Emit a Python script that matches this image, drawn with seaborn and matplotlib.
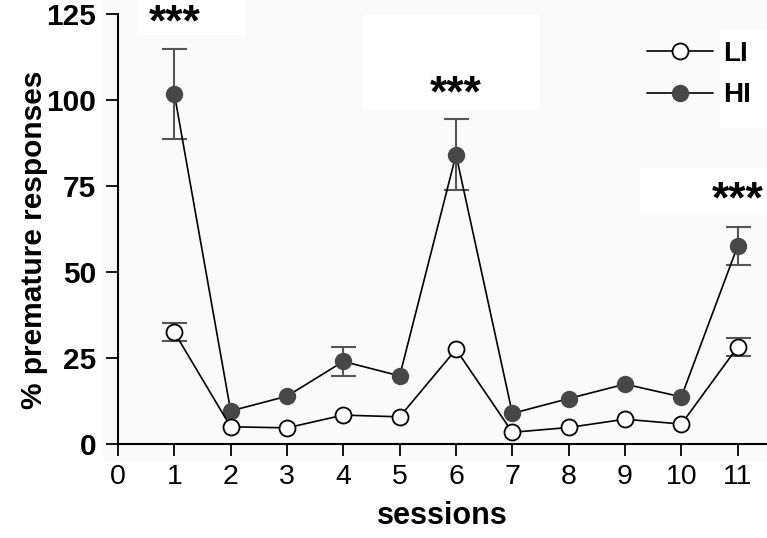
import matplotlib
matplotlib.use("Agg")
import matplotlib.pyplot as plt
import seaborn as sns
import pandas as pd
from matplotlib.patches import Rectangle

sessions = [1, 2, 3, 4, 5, 6, 7, 8, 9, 10, 11]
li_mean = [32.5, 5.0, 4.7, 8.4, 7.9, 27.5, 3.4, 4.8, 7.2, 5.8, 28.2]
li_sem = [2.6, 0, 0, 0, 0, 0, 0, 0, 0, 0, 2.7]
hi_mean = [101.8, 9.6, 13.9, 24.0, 19.8, 84.1, 8.9, 13.2, 17.4, 13.7, 57.6]
hi_sem = [13.0, 0, 0, 4.1, 0, 10.3, 0, 0, 0, 0, 5.5]
xticks = list(range(0, 12))
yticks = [0, 25, 50, 75, 100, 125]
star_sessions = [1, 6, 11]
star_y = [124, 103.4, 72.6]

sns.set_theme(style="ticks")
plt.rcParams['font.family'] = ['Liberation Sans', 'DejaVu Sans']
plt.rcParams['text.color'] = 'black'
plt.rcParams['axes.labelcolor'] = 'black'
plt.rcParams['xtick.color'] = 'black'
plt.rcParams['ytick.color'] = 'black'

df = pd.DataFrame({
    "sessions": sessions * 2,
    "value": li_mean + hi_mean,
    "group": ["LI"] * len(sessions) + ["HI"] * len(sessions),
})

W, H = 767, 538
fig = plt.figure(figsize=(W / 100, H / 100), dpi=100)
fig.patch.set_facecolor("white")
fig.patches.append(Rectangle((103 / W, 1 - 462 / H), 1, 462 / H,
                             transform=fig.transFigure, facecolor="#fafafa",
                             edgecolor="none", zorder=-10))
# white label boxes (pixel boxes of the reference image), drawn under the axes content
for (x0, y0, x1, y1) in [(138, 0, 245, 35), (363, 15, 540, 110),
                         (640, 168, 767, 215), (720, 30, 767, 128)]:
    fig.patches.append(Rectangle((x0 / W, 1 - y1 / H), (x1 - x0) / W, (y1 - y0) / H,
                                 transform=fig.transFigure, facecolor="white",
                                 edgecolor="none", zorder=-5))

ax = fig.add_axes([118 / W, 1 - 444 / H, (W - 118) / W, (444 - 14) / H])
ax.patch.set_visible(False)

def visible(vals, errs):
    idx = [i for i, e in enumerate(errs) if e > 0]
    return [sessions[i] for i in idx], [vals[i] for i in idx], [errs[i] for i in idx]

for m, e in [(li_mean, li_sem), (hi_mean, hi_sem)]:
    xs, ys, es = visible(m, e)
    ax.errorbar(xs, ys, yerr=es, fmt="none", ecolor="#555555",
                elinewidth=1.5, capsize=9, capthick=1.5, zorder=2, clip_on=False)

sns.lineplot(data=df[df.group == "HI"], x="sessions", y="value", ax=ax,
             color="black", linewidth=1.2, marker="o", markersize=11.5,
             markerfacecolor="#474747", markeredgecolor="#474747",
             markeredgewidth=1, label="HI", zorder=3, clip_on=False)
sns.lineplot(data=df[df.group == "LI"], x="sessions", y="value", ax=ax,
             color="black", linewidth=1.2, marker="o", markersize=11.5,
             markerfacecolor="white", markeredgecolor="black",
             markeredgewidth=1.3, label="LI", zorder=3, clip_on=False)

ax.set_xlim(0, 11.52)
ax.set_ylim(0, 125)
ax.set_xticks(xticks)
ax.set_xticklabels([str(t) for t in xticks], fontsize=20.5)
ax.set_yticks(yticks)
ax.set_yticklabels([str(t) for t in yticks], fontsize=21.5, fontweight="bold")
ax.tick_params(axis="both", length=8.6, width=1.3, color="black", direction="out")
ax.tick_params(axis="x", pad=6)
ax.tick_params(axis="y", pad=7)
for s in ["top", "right"]:
    ax.spines[s].set_visible(False)
for s in ["left", "bottom"]:
    ax.spines[s].set_linewidth(1.5)
    ax.spines[s].set_color("black")

ax.set_xlabel("sessions", fontsize=22, fontweight="bold", labelpad=8)
ax.set_ylabel("% premature responses", fontsize=21.5, fontweight="bold", labelpad=8)
ax.yaxis.set_label_coords(-0.108, 0.475)

for sx, sy in zip(star_sessions, star_y):
    ax.annotate("***", xy=(sx, sy), xytext=(0, -13), textcoords="offset points",
                fontsize=32, fontweight="bold", ha="center", va="baseline", zorder=4,
                annotation_clip=False)

handles, labels = ax.get_legend_handles_labels()
order = [labels.index("LI"), labels.index("HI")]
leg = ax.legend([handles[i] for i in order], [labels[i] for i in order],
                loc="upper right", bbox_to_anchor=(1.014, 0.995), frameon=False,
                prop={"size": 20, "weight": "bold"}, handlelength=2.4,
                handletextpad=0.35, labelspacing=0.55)

fig.savefig("out.png", dpi=100)
